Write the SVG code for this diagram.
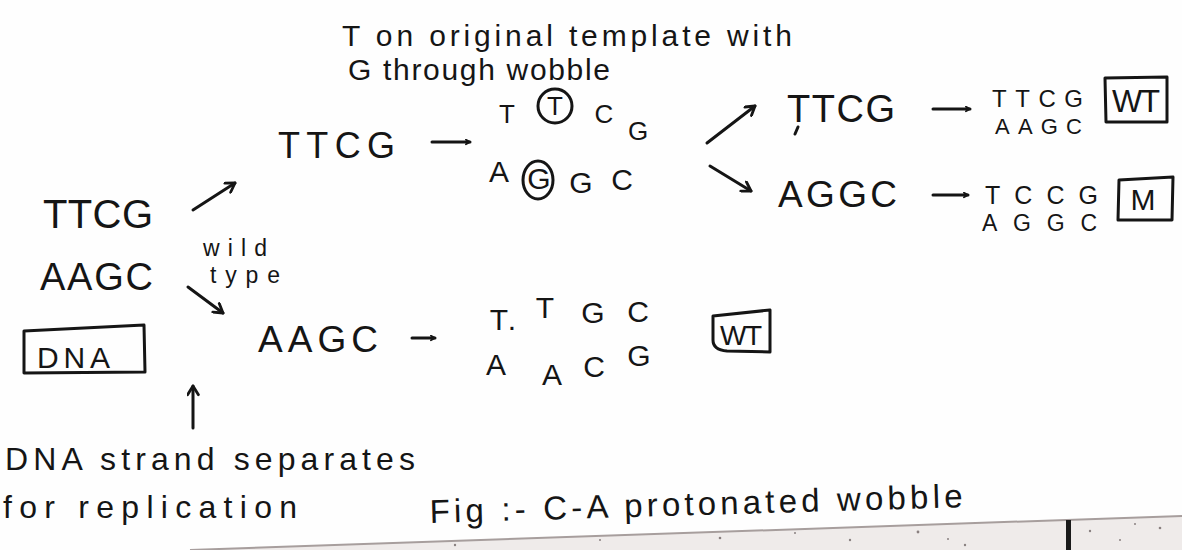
<svg xmlns="http://www.w3.org/2000/svg" width="1182" height="550" viewBox="0 0 1182 550">
<style>
  .t { font-family: "Liberation Sans", Arial, sans-serif; fill: #151515; }
  .ln { stroke: #151515; stroke-width: 3; fill: none; stroke-linecap: round; stroke-linejoin: round; }
  .box { stroke: #151515; stroke-width: 3; fill: none; stroke-linejoin: round; }
</style>
<defs>
  <marker id="ah" viewBox="0 0 12 12" refX="10" refY="6" markerWidth="13" markerHeight="13" markerUnits="userSpaceOnUse" orient="auto">
    <path d="M2,1 L10,6 L2,11" fill="none" stroke="#151515" stroke-width="2.6" stroke-linecap="round" stroke-linejoin="round"/>
  </marker>
  <marker id="ahs" viewBox="0 0 12 12" refX="10" refY="6" markerWidth="7" markerHeight="7" markerUnits="userSpaceOnUse" orient="auto">
    <path d="M3,2 L10,6 L3,10" fill="none" stroke="#151515" stroke-width="3" stroke-linecap="round"/>
  </marker>
</defs>
<rect width="1182" height="550" fill="#fefefe"/>

<!-- paper edge / desk -->
<g id="paper-edge">
  <polygon points="190,550 1182,516 1182,550" fill="#efebea"/>
  <polyline points="190,550 1182,516" stroke="#a79e9d" stroke-width="2" fill="none"/>
  <rect x="1066" y="520" width="5" height="30" fill="#1a1a1a"/>
  <g fill="#8a8080">
    <circle cx="455" cy="545" r="1.2"/><circle cx="600" cy="540" r="1"/><circle cx="720" cy="538" r="1.3"/>
    <circle cx="795" cy="533" r="1"/><circle cx="850" cy="540" r="1.2"/><circle cx="918" cy="532" r="1.4"/>
    <circle cx="948" cy="539" r="1"/><circle cx="965" cy="545" r="1.2"/><circle cx="1090" cy="531" r="1.2"/>
    <circle cx="1120" cy="540" r="1"/><circle cx="1160" cy="528" r="1.3"/><circle cx="1135" cy="524" r="1"/>
  </g>
</g>

<g id="connectors">
  <line class="ln" x1="193" y1="210" x2="235" y2="183" marker-end="url(#ah)"/>
  <line class="ln" x1="188" y1="287" x2="223" y2="313" marker-end="url(#ah)"/>
  <line class="ln" x1="432" y1="142" x2="470" y2="142" marker-end="url(#ahs)"/>
  <line class="ln" x1="707" y1="143" x2="755" y2="106" marker-end="url(#ah)"/>
  <line class="ln" x1="710" y1="166" x2="751" y2="191" marker-end="url(#ah)"/>
  <line class="ln" x1="933" y1="109" x2="970" y2="109" marker-end="url(#ahs)"/>
  <line class="ln" x1="933" y1="195" x2="968" y2="195" marker-end="url(#ahs)"/>
  <line class="ln" x1="412" y1="338" x2="435" y2="338" marker-end="url(#ahs)"/>
  <line class="ln" x1="193" y1="428" x2="193" y2="386" marker-end="url(#ah)"/>
</g>

<g id="note-wobble">
  <text class="t" x="342" y="46" font-size="30" textLength="450">T on original template with</text>
  <text class="t" x="348" y="80" font-size="30" textLength="262">G through wobble</text>
</g>

<g id="dna">
  <text class="t" x="43" y="228" font-size="40" textLength="110">TTCG</text>
  <text class="t" x="40" y="290" font-size="38" textLength="113">AAGC</text>
  <path class="box" d="M24,331 L144,325 L145,372 L24,373 Z"/>
  <text class="t" x="37" y="368" font-size="30" textLength="73">DNA</text>
</g>

<g id="wild-type-label">
  <text class="t" x="203" y="256" font-size="23" textLength="64">wild</text>
  <text class="t" x="210" y="283" font-size="23" textLength="70">type</text>
</g>

<g id="strand-top">
  <text class="t" x="278" y="158" font-size="36" textLength="117">TTCG</text>
</g>

<g id="wobble-pair">
  <text class="t" font-size="26" text-anchor="middle" x="507 555 604 638" y="123 115 123 140">TTCG</text>
  <circle class="box" cx="555" cy="106" r="17" stroke-width="2.5"/>
  <text class="t" font-size="30" text-anchor="middle" x="499 539 581 622" y="182 189 193 190">AGGC</text>
  <ellipse class="box" cx="538" cy="180" rx="15" ry="19" stroke-width="2.5"/>
</g>

<g id="upper-ttcg">
  <text class="t" x="787" y="122" font-size="38" textLength="108">TTCG</text>
  <path class="ln" d="M798,127 L795,134" stroke-width="2.5"/>
</g>

<g id="upper-wt">
  <text class="t" x="992" y="107" font-size="24" textLength="91">TTCG</text>
  <text class="t" x="995" y="134" font-size="22" textLength="87">AAGC</text>
  <path class="box" d="M1105,78 L1167,77 L1167,122 L1106,122 Z"/>
  <text class="t" x="1136" y="112" font-size="32" text-anchor="middle" textLength="48">WT</text>
</g>

<g id="upper-aggc">
  <text class="t" x="778" y="207" font-size="37" textLength="119">AGGC</text>
</g>

<g id="mutant">
  <text class="t" x="985" y="204" font-size="25" textLength="113">TCCG</text>
  <text class="t" x="982" y="231" font-size="23" textLength="115">AGGC</text>
  <path class="box" d="M1119,180 L1173,177 L1172,220 L1118,220 Z"/>
  <text class="t" x="1143" y="210" font-size="30" text-anchor="middle">M</text>
</g>

<g id="strand-bottom">
  <text class="t" x="258" y="352" font-size="37" textLength="120">AAGC</text>
</g>

<g id="lower-wt">
  <text class="t" font-size="30" text-anchor="middle" x="499 512 545 593 638" y="330 330 318 323 322">T.TGC</text>
  <text class="t" font-size="30" text-anchor="middle" x="496 552 594 639" y="375 385 377 366">AACG</text>
  <path class="box" d="M713,316 L770,310 L770,352 L727,351 Q713,350 713,340 Z"/>
  <text class="t" x="741" y="345" font-size="28" text-anchor="middle" textLength="42">WT</text>
</g>

<g id="replication-note">
  <text class="t" x="5" y="470" font-size="32" textLength="410">DNA strand separates</text>
  <text class="t" x="3" y="518" font-size="32" textLength="294">for replication</text>
</g>

<g id="caption">
  <text class="t" x="430" y="523" font-size="33" textLength="533" transform="rotate(-1.7 430 523)">Fig :- C-A protonated wobble</text>
</g>
</svg>
